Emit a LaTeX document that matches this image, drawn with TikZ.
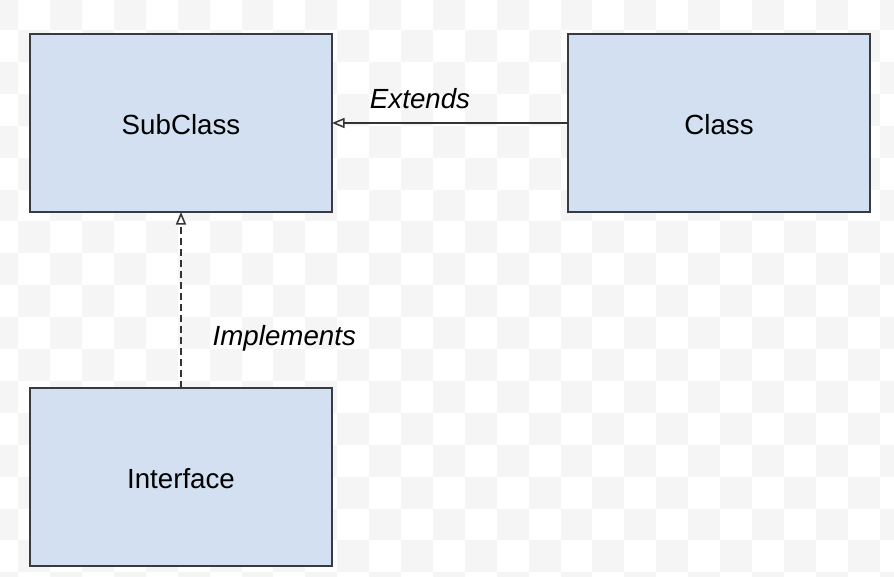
\documentclass[tikz,border=0pt]{standalone}
\usepackage{fontspec}
\setmainfont{Liberation Sans}
\usetikzlibrary{positioning,arrows.meta}

\definecolor{boxfill}{RGB}{211,224,241}
\definecolor{boxline}{RGB}{56,60,64}
\definecolor{checker}{RGB}{245,245,245}

\def\cellsize{31.9}

\begin{document}
\begin{tikzpicture}[x=1pt,y=-1pt,node distance=236pt]
    \tikzstyle{classbox}=[rectangle, draw=boxline, fill=boxfill, line width=2pt,
        minimum width=302pt, minimum height=178pt, inner sep=0pt, outer sep=0pt,
        text height=23pt, font=\fontsize{27.7}{33}\selectfont]
    \tikzstyle{link}=[draw=black!80, line width=1.4pt,
        -{Triangle[open, length=12.5pt, width=10pt, line width=1.5pt]}]
    \tikzstyle{annot}=[font=\fontsize{27.7}{33}\selectfont\itshape, inner sep=0pt]

    \useasboundingbox (0,0) rectangle (894,576);

    % Draw the checkered background
    \begin{scope}
        \clip (0,0) rectangle (894,576);
        \foreach \c in {0,...,28}
            \foreach \r in {0,...,18} {
                \pgfmathtruncatemacro\chk{mod(\c+\r,2)}
                \ifnum\chk=0
                    \fill[checker] (18.2+\cellsize*\c-\cellsize,30+\cellsize*\r-\cellsize)
                        rectangle ++(\cellsize,\cellsize);
                \fi
            }
    \end{scope}

    % Draw the class boxes
    \node[classbox] (SubClass) at (181,123) {SubClass};
    \node[classbox, right=of SubClass] (Class) {Class};
    \node[classbox, below=176pt of SubClass] (Interface) {Interface};

    % Connect the boxes
    \path[link] (Class) -- (SubClass)
        node[annot, pos=0.627, anchor=base, yshift=15pt] {Extends};
    \path[link, dash pattern=on 7pt off 4pt] (Interface) -- (SubClass)
        node[annot, pos=0.244, anchor=base west, xshift=31pt] {Implements};
\end{tikzpicture}
\end{document}
